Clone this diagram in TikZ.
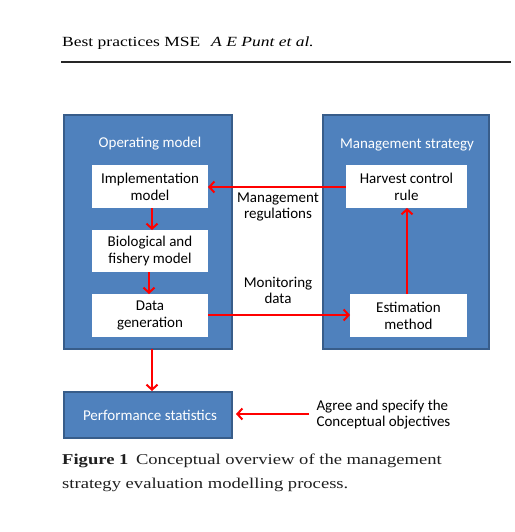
\documentclass[tikz,border=0pt]{standalone}
\usepackage{fontspec}
\setmainfont{Liberation Serif}
\newfontfamily\calfont{Carlito}
\newfontfamily\hdrfont[FakeStretch=1.25]{Liberation Serif}
\newfontfamily\capfont[FakeStretch=1.24]{Liberation Serif}
\usetikzlibrary{arrows.meta}
\definecolor{boxblue}{HTML}{4F81BD}
\definecolor{boxedge}{HTML}{385D8A}
\definecolor{arrred}{HTML}{FF0000}
\begin{document}
\begin{tikzpicture}[x=1pt,y=-1pt,
  bigbox/.style={draw=boxedge,fill=boxblue,line width=1.5pt},
  inbox/.style={fill=white,draw=none},
  intext/.style={font=\calfont\fontsize{15}{17}\selectfont,align=center,text=black},
  titletext/.style={font=\calfont\fontsize{15}{17}\selectfont,text=white},
  arr/.style={draw=arrred,line width=2.8pt,-{Straight Barb[length=5pt,width=11pt,line width=2pt]}},
  lbl/.style={font=\calfont\fontsize{15}{16}\selectfont,align=center},
  captext/.style={anchor=base west,inner sep=0,font=\capfont\fontsize{15}{24}\selectfont,text=black!88}]
\useasboundingbox (0,0) rectangle (514,532);
% header
\node[anchor=base west,inner sep=0,font=\hdrfont\fontsize{14}{16}\selectfont] (hdr) at (62,47) {Best practices MSE\hspace{11pt}\textit{A E Punt et al.}};
\draw[line width=2.5pt,draw=black!85] (61,62) coordinate (r1) -- (511,62) coordinate (r2);
% big boxes
\draw[bigbox] (64,115) rectangle (232,349);
\draw[bigbox] (323,115) rectangle (489,349);
\node[titletext] (om) at (150,144) {Operating model};
\node[titletext] (ms) at (407,145) {Management strategy};
% inner boxes
\path[inbox] (92,165) rectangle (208,208);
\node[intext] (impl) at (150,186.5) {Implementation\\model};
\path[inbox] (92,230) rectangle (208,272);
\node[intext] (bio) at (150,251) {Biological and\\fishery model};
\path[inbox] (92,294) rectangle (208,337);
\node[intext] (data) at (150,315.5) {Data\\generation};
\path[inbox] (346,165) rectangle (467,208);
\node[intext] (hcr) at (406.5,186.5) {Harvest control\\rule};
\path[inbox] (350,294) rectangle (467,337);
\node[intext] (est) at (408.5,315.5) {Estimation\\method};
% performance box
\draw[bigbox] (64,392) rectangle (232,438);
\node[titletext] (perf) at (150,415) {Performance statistics};
% coordinates for arrow ends
\coordinate (implR) at (208,187);
\coordinate (hcrL) at (346,187);
\coordinate (implB) at (152,208);
\coordinate (bioT) at (152,230);
\coordinate (bioB) at (149,272);
\coordinate (dataT) at (149,294);
\coordinate (dataR) at (208,315);
\coordinate (estL) at (350,315);
\coordinate (estT) at (407,294);
\coordinate (hcrB) at (407,208);
\coordinate (omB) at (152,349);
\coordinate (perfT) at (152,391);
\coordinate (perfR) at (236,414);
\coordinate (objL) at (309,414);
% arrows
\draw[arr,line width=2pt] (hcrL) -- (implR);
\draw[arr] (implB) -- (bioT);
\draw[arr] (bioB) -- (dataT);
\draw[arr] (dataR) -- (estL);
\draw[arr] (estT) -- (hcrB);
\draw[arr] (omB) -- (perfT);
\draw[arr,line width=2pt] (objL) -- (perfR);
% labels
\node[lbl] (mreg) at (278,207) {Management\\regulations};
\node[lbl] (mdat) at (278,290) {Monitoring\\data};
\node[lbl,align=left,anchor=west] (obj) at (313,414.5) {Agree and specify the\\Conceptual objectives};
% caption
\node[captext] (cap1) at (62,464) {\textbf{Figure 1}\enspace Conceptual overview of the management};
\node[captext] (cap2) at (62,488) {strategy evaluation modelling process.};
\end{tikzpicture}
\end{document}
